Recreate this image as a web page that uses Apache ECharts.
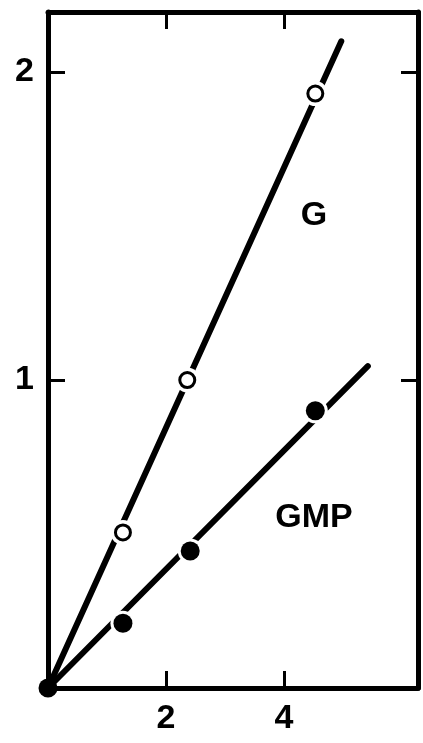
<!DOCTYPE html>
<html>
<head>
<meta charset="utf-8">
<script src="https://cdn.jsdelivr.net/npm/echarts@6/dist/echarts.min.js"></script>
<style>
  html, body { margin: 0; padding: 0; background: #fff; }
  #chart { width: 423px; height: 743px; }
</style>
</head>
<body>
<div id="chart"></div>
<script>
// Measured points: open circles (G) and filled circles (GMP)
const gX = [1.27, 2.36, 4.53];
const gY = [0.505, 1.0, 1.93];
const gmpX = [1.27, 2.41, 4.53];
const gmpY = [0.21, 0.445, 0.90];

// Fitted lines through the origin, given by their end points
const gLineX = [0, 4.97];
const gLineY = [0, 2.10];
const gmpLineX = [0, 5.42];
const gmpLineY = [0, 1.045];

const xTicks = [2, 4];
const yTicks = [1, 2];
const xMax = 6.27;
const yMax = 2.195;

const zip = (xs, ys) => xs.map((x, i) => [x, ys[i]]);

const FONT = 'Liberation Sans';
const INK = '#000';

const tickStyle = { lineStyle: { color: INK, width: 3 } };
const labelFont = { color: INK, fontFamily: FONT, fontWeight: 'bold', fontSize: 34 };

function xAxisDef(position, showLabels) {
  return {
    type: 'value', position, min: 0, max: xMax,
    splitLine: { show: false },
    axisLine: { show: true, onZero: false, lineStyle: { color: INK, width: 5 } },
    axisTick: { show: true, inside: true, length: 17, customValues: xTicks, ...tickStyle },
    axisLabel: { show: showLabels, customValues: xTicks, margin: 14, ...labelFont }
  };
}
function yAxisDef(position, showLabels) {
  return {
    type: 'value', position, min: 0, max: yMax,
    splitLine: { show: false },
    axisLine: { show: true, onZero: false, lineStyle: { color: INK, width: 5 } },
    axisTick: { show: true, inside: true, length: 17, customValues: yTicks, ...tickStyle },
    axisLabel: { show: showLabels, customValues: yTicks, margin: 14, ...labelFont }
  };
}

const chart = echarts.init(document.getElementById('chart'), null, { renderer: 'canvas' });

chart.setOption({
  animation: false,
  backgroundColor: '#fff',
  grid: { left: 48, right: 5, top: 12, bottom: 55 },
  xAxis: [xAxisDef('bottom', true), xAxisDef('top', false)],
  yAxis: [yAxisDef('left', true), yAxisDef('right', false)],
  series: [
    {
      type: 'line', data: zip(gLineX, gLineY), symbol: 'none', z: 2,
      lineStyle: { color: INK, width: 6, cap: 'round' }
    },
    {
      type: 'line', data: zip(gmpLineX, gmpLineY), symbol: 'none', z: 2,
      lineStyle: { color: INK, width: 6, cap: 'round' }
    },
    // white halos that open a small gap in the lines around each marker
    {
      type: 'scatter', data: zip(gX, gY).concat(zip(gmpX, gmpY)), z: 3,
      symbol: 'circle', symbolSize: 25, silent: true,
      itemStyle: { color: '#fff', opacity: 1 }
    },
    {
      name: 'G', type: 'scatter', data: zip(gX, gY), z: 4,
      symbol: 'circle', symbolSize: 15,
      itemStyle: { color: '#fff', borderColor: INK, borderWidth: 3, opacity: 1 }
    },
    {
      name: 'GMP', type: 'scatter', data: zip(gmpX, gmpY), z: 4,
      symbol: 'circle', symbolSize: 19, itemStyle: { color: INK, opacity: 1 }
    },
    {
      type: 'scatter', data: [[0, 0]], z: 5,
      symbol: 'circle', symbolSize: 19, itemStyle: { color: INK, opacity: 1 }
    }
  ],
  graphic: [
    {
      type: 'text', x: 314, y: 216, z: 10,
      style: { text: 'G', fill: INK, font: 'bold 34px "Liberation Sans"', align: 'center', verticalAlign: 'middle' }
    },
    {
      type: 'text', x: 314, y: 518, z: 10,
      style: { text: 'GMP', fill: INK, font: 'bold 34px "Liberation Sans"', align: 'center', verticalAlign: 'middle' }
    }
  ]
});
</script>
</body>
</html>
